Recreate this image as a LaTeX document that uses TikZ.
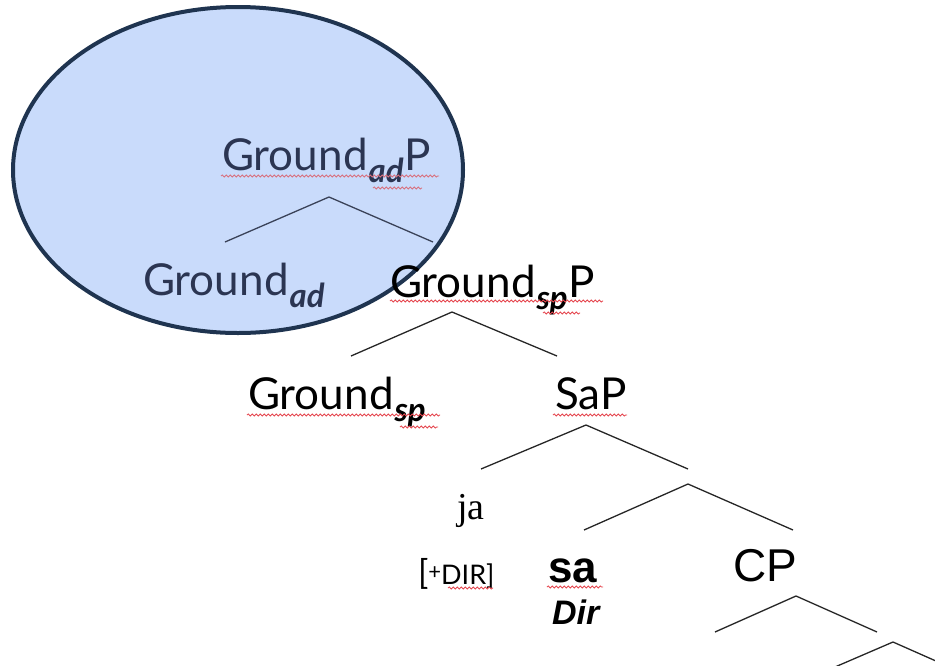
\documentclass[tikz,border=0pt]{standalone}
\usepackage{fontspec}
\setmainfont{Lato}
\newfontfamily\arialf{Liberation Sans}
\newfontfamily\timesf{Liberation Serif}
\usetikzlibrary{decorations.pathmorphing}

\definecolor{navy}{HTML}{1F3450}
\definecolor{bubble}{HTML}{C9DBFB}
\definecolor{adtext}{HTML}{2B3552}
\definecolor{adline}{HTML}{3A4258}
\definecolor{spell}{HTML}{E5474F}
\definecolor{spellpale}{HTML}{D8707E}

\newcommand{\sz}[1]{\fontsize{#1}{#1}\selectfont}
\newcommand{\lsub}[1]{\kern1pt\raisebox{-12pt}{\sz{33}\bfseries\itshape #1}\kern1pt}

\tikzset{
  lab/.style={anchor=base west, inner sep=0pt, outer sep=0pt, font=\sz{44}},
  branch/.style={line width=1.3pt, draw=black!85},
  adbranch/.style={line width=1.3pt, draw=adline},
  squig/.style={draw=spell, line width=0.8pt, decorate,
    decoration={snake, segment length=4pt, amplitude=1.1pt}},
}

\begin{document}
\begin{tikzpicture}[x=1pt,y=-1pt]
\useasboundingbox (0,0) rectangle (935,665);
\clip (0,0) rectangle (935,665);

% highlighted region
\draw[navy, line width=4pt, fill=bubble] (238,170) ellipse [x radius=225, y radius=163];

% labels
\node[lab, text=adtext] (gadp) at (222,170) {Ground\lsub{ad}P};
\node[lab, text=adtext] (gad) at (143,295) {Ground\lsub{ad}};
\node[lab] (gspp) at (390,297) {Ground\lsub{sp}P};
\node[lab] (gsp) at (248,409) {Ground\lsub{sp}};
\node[lab] (sap) at (555,409) {SaP};
\node[lab, font=\timesf\sz{38}] (ja) at (457,519) {ja};
\node[lab, font=\sz{34}] (feat) at (418,584)
  {[\raisebox{5pt}{\sz{22}+}\sz{27}DIR]};
\node[lab, font=\arialf\bfseries\sz{44}] (sa) at (548,582) {sa};
\node[lab, font=\arialf\bfseries\itshape\sz{34}] (dirlab) at (552,624) {Dir};
\node[lab, font=\arialf\sz{46}] (cp) at (733,581) {CP};

% branch points
\coordinate (t1) at (329,197); \coordinate (t1l) at (225,242); \coordinate (t1r) at (433,242);
\coordinate (t2) at (452,312); \coordinate (t2l) at (351,356); \coordinate (t2r) at (557,356);
\coordinate (t3) at (586,425); \coordinate (t3l) at (481,469); \coordinate (t3r) at (688,469);
\coordinate (t4) at (688,484); \coordinate (t4l) at (584,530); \coordinate (t4r) at (793,530);
\coordinate (t5) at (796,596); \coordinate (t5l) at (715,632); \coordinate (t5r) at (877,632);
\coordinate (t6) at (893,642); \coordinate (t6l) at (828,670); \coordinate (t6r) at (945,665);

\draw[adbranch] (t1l) -- (t1) -- (t1r);
\draw[branch] (t2l) -- (t2) -- (t2r);
\draw[branch] (t3l) -- (t3) -- (t3r);
\draw[branch] (t4l) -- (t4) -- (t4r);
\draw[branch] (t5l) -- (t5) -- (t5r);
\draw[branch] (t6l) -- (t6) -- (t6r);

% spell-check underlines
\draw[squig, draw=spellpale] (221,176) -- (439,176);
\draw[squig, draw=spellpale] (373,188) -- (422,188);
\draw[squig] (390,301) -- (603,301);
\draw[squig] (543,313) -- (580,313);
\draw[squig] (247,415) -- (440,415);
\draw[squig] (400,427) -- (438,427);
\draw[squig] (553,415) -- (627,415);
\draw[squig] (448,588) -- (493,588);
\draw[squig] (547,587) -- (603,587);
\end{tikzpicture}
\end{document}
